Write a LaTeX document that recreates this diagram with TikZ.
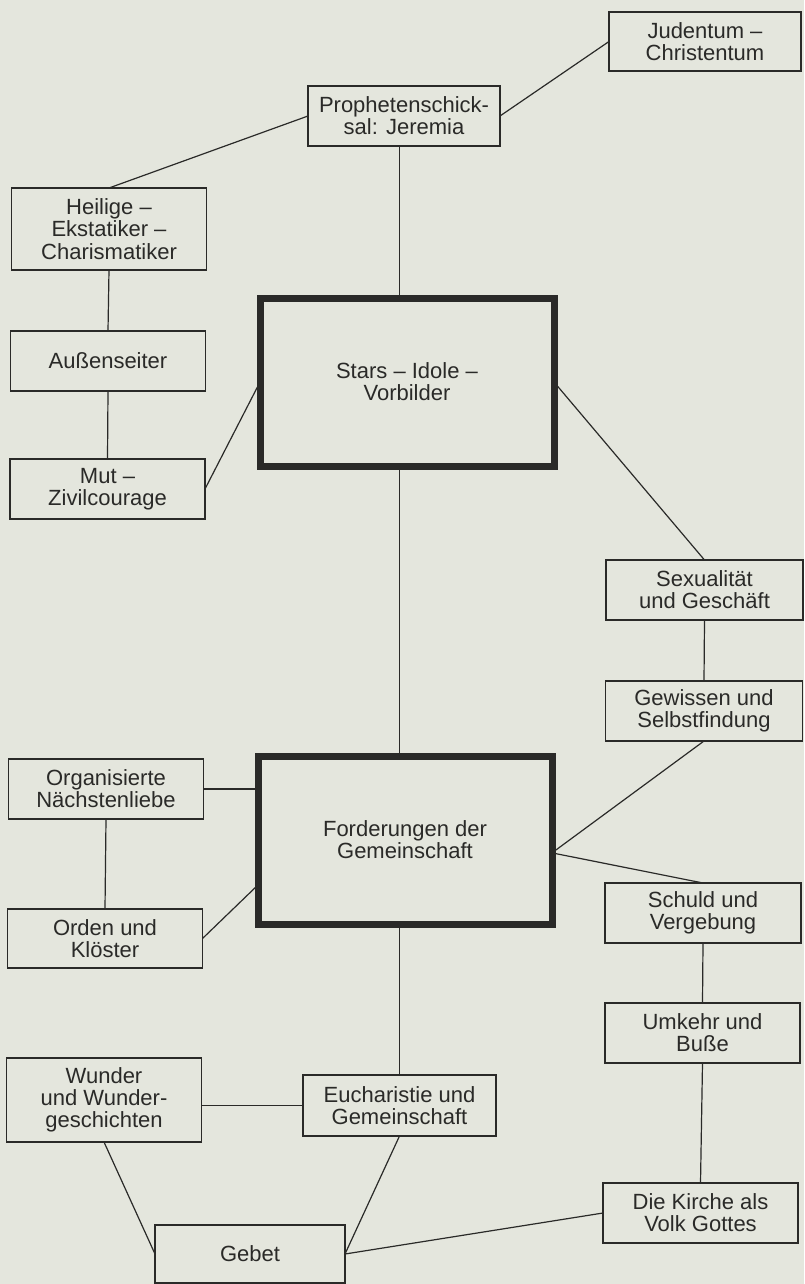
\documentclass[tikz,border=0pt]{standalone}
\usepackage{fontspec}
\setmainfont{Liberation Sans}
\definecolor{paper}{RGB}{228,230,221}
\definecolor{ink}{RGB}{42,42,40}
\begin{document}
\begin{tikzpicture}[x=1pt,y=-1pt,
    box/.style={draw=ink,line width=1.7pt,fill=paper,text=ink,align=center,
      inner sep=0pt,outer sep=0pt,minimum width=195pt,minimum height=60pt,
      font=\fontsize{22}{22.2}\selectfont},
    tallbox/.style={box,minimum height=83pt},
    hub/.style={box,line width=7pt,minimum width=294pt,minimum height=168pt},
    link/.style={draw=ink,line width=1.2pt}]
  \fill[paper] (0,0) rectangle (804,1284);
  \useasboundingbox (0,0) rectangle (804,1284);
  \node[box,minimum width=192pt,minimum height=59pt] (judentum) at (705,41.5) {Judentum –\\Christentum};
  \node[box,minimum width=192pt] (prophet) at (404,116) {Prophetenschick-\\sal: Jeremia};
  \node[tallbox,minimum height=82pt] (heilige) at (109,229) {Heilige –\\Ekstatiker –\\Charismatiker};
  \node[box] (aussen) at (108,361) {Außenseiter};
  \node[box] (mut) at (107.5,489) {Mut –\\Zivilcourage};
  \node[hub] (stars) at (407,382) {Stars – Idole –\\Vorbilder};
  \node[box,minimum width=197pt] (sex) at (704.5,590) {Sexualität\\und Geschäft};
  \node[box,minimum width=197pt] (gewissen) at (704,711) {Gewissen und\\Selbstfindung};
  \node[box] (org) at (106,789) {Organisierte\\Nächstenliebe};
  \node[hub] (ford) at (405,840) {Forderungen der\\Gemeinschaft};
  \node[box,minimum height=59pt] (orden) at (105,938.5) {Orden und\\Klöster};
  \node[box,minimum width=196pt] (schuld) at (703,913) {Schuld und\\Vergebung};
  \node[box] (umkehr) at (702.5,1033) {Umkehr und\\Buße};
  \node[tallbox,minimum height=84pt] (wunder) at (104,1100) {Wunder\\und Wunder-\\geschichten};
  \node[box,minimum width=193pt,minimum height=61pt] (euch) at (399.5,1105.5) {Eucharistie und\\Gemeinschaft};
  \node[box] (kirche) at (700.5,1213) {Die Kirche als\\Volk Gottes};
  \node[box,minimum width=190pt,minimum height=58pt] (gebet) at (250,1254) {Gebet};
  \draw[link] (prophet.west) -- (heilige.north);
  \draw[link] (prophet.east) -- (judentum.west);
  \draw[link] (prophet.south -| euch.north) -- (stars.north -| euch.north);
  \draw[link] (heilige.south) -- (aussen.north);
  \draw[link] (aussen.south) -- (mut.north);
  \draw[link] (mut.east) -- (stars.west);
  \draw[link] (stars.east) -- (sex.north);
  \draw[link] (sex.south) -- (gewissen.north);
  \draw[link] (gewissen.south) -- (ford.-5) -- (schuld.north);
  \draw[link] (schuld.south) -- (umkehr.north);
  \draw[link] (umkehr.south) -- (kirche.north);
  \draw[link] (stars.south -| euch.north) -- (ford.north -| euch.north);
  \draw[link] (org.east) -- (org.east -| ford.west);
  \draw[link] (org.south) -- (orden.north);
  \draw[link] (orden.east) -- (ford.197);
  \draw[link] (ford.south -| euch.north) -- (euch.north);
  \draw[link] (wunder.east |- euch.west) -- (euch.west);
  \draw[link] (wunder.south) -- (gebet.west);
  \draw[link] (euch.south) -- (gebet.east) -- (kirche.west);
\end{tikzpicture}
\end{document}
